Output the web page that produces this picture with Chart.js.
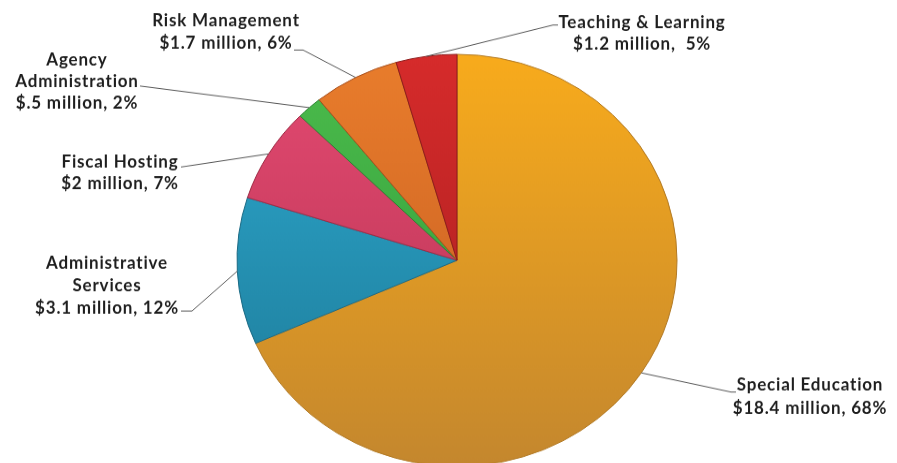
<!DOCTYPE html>
<html>
<head>
<meta charset="utf-8">
<script src="https://cdn.jsdelivr.net/npm/chart.js@4/dist/chart.umd.min.js"></script>
<style>
  html, body { margin: 0; padding: 0; background: #fff; }
  /* the original pie is a bit flatter than a circle: draw taller, then squash */
  #frame { position: relative; width: 897px; height: 463px; overflow: hidden; }
  #stretch { width: 897px; height: 500px; transform: scaleY(0.93636); transform-origin: 0 0; }
</style>
</head>
<body>
<div id="frame"><div id="stretch"><canvas id="budget-chart"></canvas></div></div>
<script>
// Data
const categories = ["Special Education", "Administrative Services", "Fiscal Hosting",
  "Agency Administration", "Risk Management", "Teaching & Learning"];
const millions = [18.4, 3.1, 2, 0.5, 1.7, 1.2];
const nameLines = [["Special Education"], ["Administrative", "Services"], ["Fiscal Hosting"],
  ["Agency", "Administration"], ["Risk Management"], ["Teaching & Learning"]];
const amountLabels = ["$18.4 million, 68%", "$3.1 million, 12%", "$2 million, 7%",
  "$.5 million, 2%", "$1.7 million, 6%", "$1.2 million,  5%"];

// Styles
const S = 0.93636; // vertical squash applied by CSS
const topColors = ["#f8ab1c", "#2ea9cf", "#e44a72", "#4cbc4c", "#e97d2c", "#d62b2b"];
const bottomColors = ["#c4872e", "#1c7895", "#b3324f", "#2e9638", "#c25a20", "#a31d1e"];
const edgeColors = ["#b27a25", "#1b6a84", "#9e2b45", "#2a8031", "#a84f1c", "#8e1a1a"];

// label placement in picture pixels: centre x, middle y of each line, leader path from label end
const labelPos = [
  { x: 810, ys: [385, 408], path: [[731, 392], [736, 392]] },
  { x: 107, ys: [263, 286, 308], path: [[192, 311], [181, 311]] },
  { x: 120, ys: [162, 184], path: [[181, 167]] },
  { x: 77, ys: [60, 82, 103], path: [[140, 86]] },
  { x: 226, ys: [21, 43], path: [[303, 50], [294, 50]] },
  { x: 642, ys: [23, 44], path: [[553, 25], [558, 25]] }
];

function sliceFill(context) {
  const i = context.dataIndex;
  const area = context.chart.chartArea;
  if (!area) return topColors[i];
  const g = context.chart.ctx.createLinearGradient(0, area.top, 0, area.bottom);
  g.addColorStop(0, topColors[i]);
  g.addColorStop(1, bottomColors[i]);
  return g;
}

// draw leader lines and labels
const calloutPlugin = {
  id: "callouts",
  afterDraw(chart) {
    const ctx = chart.ctx;
    const arcs = chart.getDatasetMeta(0).data;
    ctx.save();
    arcs.forEach((arc, i) => {
      const p = arc.getProps(["x", "y", "startAngle", "endAngle", "outerRadius"], true);
      const mid = (p.startAngle + p.endAngle) / 2;
      const px = p.x + Math.cos(mid) * p.outerRadius;
      const py = p.y + Math.sin(mid) * p.outerRadius;
      const pos = labelPos[i];

      ctx.strokeStyle = "#555";
      ctx.lineWidth = 1;
      ctx.beginPath();
      ctx.moveTo(px, py);
      pos.path.forEach(pt => ctx.lineTo(pt[0], pt[1] / S));
      ctx.stroke();

      const lines = nameLines[i].concat([amountLabels[i]]);
      ctx.fillStyle = "#1e1e1e";
      ctx.font = "bold 17px Lato";
      ctx.letterSpacing = "0.8px";
      ctx.textAlign = "center";
      ctx.textBaseline = "middle";
      lines.forEach((line, k) => {
        ctx.save();
        ctx.translate(pos.x, pos.ys[k] / S);
        ctx.scale(1, 1 / S);
        ctx.fillText(line, 0, 0);
        ctx.restore();
      });
    });
    ctx.restore();
  }
};

const chart = new Chart(document.getElementById("budget-chart"), {
  type: "pie",
  data: {
    labels: categories,
    datasets: [{
      data: millions,
      backgroundColor: sliceFill,
      borderColor: edgeColors,
      borderWidth: 1
    }]
  },
  options: {
    responsive: true,
    maintainAspectRatio: false,
    animation: false,
    layout: { padding: { left: 236.5, right: 219.5, top: 57.5, bottom: 1.5 } },
    plugins: { legend: { display: false }, tooltip: { enabled: false } }
  },
  plugins: [calloutPlugin]
});
</script>
</body>
</html>
